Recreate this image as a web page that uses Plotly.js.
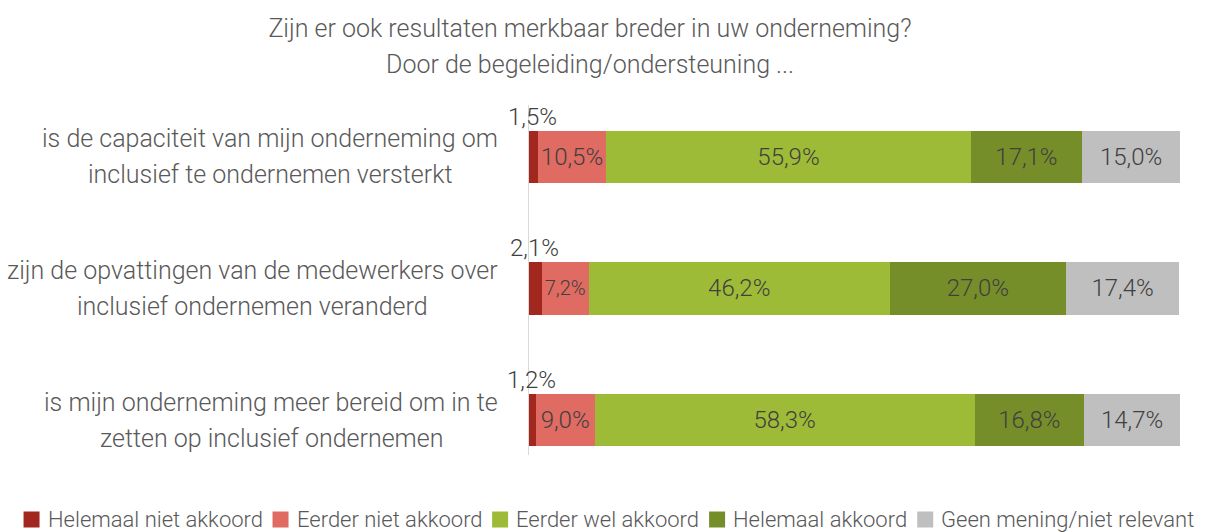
<!DOCTYPE html>
<html><head><meta charset="utf-8">
<script src="https://cdn.plot.ly/plotly-3.0.1.min.js"></script>
<style>body{margin:0;background:#fff}#chart{width:1216px;height:532px}</style>
</head><body><div id="chart"></div>
<script>
const categories = [
  "is de capaciteit van mijn onderneming om<br>inclusief te ondernemen versterkt",
  "zijn de opvattingen van de medewerkers over<br>inclusief ondernemen veranderd",
  "is mijn onderneming meer bereid om in te<br>zetten op inclusief ondernemen"
];
const seriesNames = ["Helemaal niet akkoord","Eerder niet akkoord","Eerder wel akkoord","Helemaal akkoord","Geen mening/niet relevant"];
const helemaalNiet = [1.5, 2.1, 1.2];
const eerderNiet = [10.5, 7.2, 9.0];
const eerderWel = [55.9, 46.2, 58.3];
const helemaalWel = [17.1, 27.0, 16.8];
const geenMening = [15.0, 17.4, 14.7];
const colors = ["#A1271F","#E06B62","#9EBB37","#768E29","#BFBFBF"];
const titleLine1 = "Zijn er ook resultaten merkbaar breder in uw onderneming?";
const titleLine2 = "Door de begeleiding/ondersteuning ...";

const FONT = "Roboto, 'DejaVu Sans Condensed', sans-serif";
const W = 1216, H = 532, L = 528, R = 36, T = 105, B = 77;
const PW = W - L - R, PH = H - T - B;
const px2x = px => (px - L) / PW;
const py2y = py => (H - B - py) / PH;
const ctx = document.createElement('canvas').getContext('2d');
const measure = (txt, size) => { ctx.font = `300 ${size}px Roboto`; return ctx.measureText(txt).width; };

const seriesVals = [helemaalNiet, eerderNiet, eerderWel, helemaalWel, geenMening];
const fmt = v => v.toFixed(1).replace('.', ',') + '%';
const yIdx = categories.map((c,i)=>i);

const traces = seriesVals.map((vals, s) => ({
  type: 'bar', orientation: 'h', name: seriesNames[s],
  y: yIdx, x: vals,
  marker: {color: colors[s]},
  text: vals.map(v => v < 3 ? '' : fmt(v)),
  textposition: 'inside', insidetextanchor: 'middle', textangle: 0,
  textfont: {family: FONT, size: 24, weight: 300, color: '#404040'},
  hoverinfo: 'none', showlegend: false
}));

const annotations = [];
const shapes = [{type: 'line', xref: 'x', yref: 'paper', x0: 0, x1: 0, y0: 0, y1: 1,
  line: {color: '#D9D9D9', width: 2}}];

// small-segment labels above the bars
helemaalNiet.forEach((v, i) => {
  annotations.push({x: v/2, y: i, xref: 'x', yref: 'y', text: fmt(v), showarrow: false,
    yshift: 40, xanchor: 'center', yanchor: 'middle',
    font: {family: FONT, size: 24, weight: 300, color: '#404040'}});
});
// category labels: block right-aligned, lines centred within block
const LBL = 25;
categories.forEach((c, i) => {
  const lines = c.split('<br>');
  const maxW = Math.max(...lines.map(l => measure(l, LBL)));
  const cx = 498 - maxW / 2;
  lines.forEach((ln, k) => {
    annotations.push({x: px2x(cx), y: i, xref: 'paper', yref: 'y', text: ln, showarrow: false,
      xanchor: 'center', yanchor: 'middle', yshift: 18 - 36 * k,
      font: {family: FONT, size: LBL, weight: 300, color: '#595959'}});
  });
});
// second title line
annotations.push({x: px2x(590), y: py2y(65), xref: 'paper', yref: 'paper', text: titleLine2,
  showarrow: false, xanchor: 'center', yanchor: 'middle',
  font: {family: FONT, size: 25, weight: 300, color: '#595959'}});
// legend
const LG = 22, SQ = 16, GAP1 = 7, GAP2 = 11, LY = 519.5;
const widths = seriesNames.map(n => measure(n, LG));
const total = widths.reduce((a, w) => a + SQ + GAP1 + w, 0) + GAP2 * (seriesNames.length - 1);
let lx = 608.5 - total / 2;
seriesNames.forEach((n, s) => {
  shapes.push({type: 'rect', xref: 'paper', yref: 'paper',
    x0: px2x(lx), x1: px2x(lx + SQ), y0: py2y(LY + SQ/2), y1: py2y(LY - SQ/2),
    fillcolor: colors[s], line: {width: 0}});
  annotations.push({x: px2x(lx + SQ + GAP1), y: py2y(LY), xref: 'paper', yref: 'paper', text: n,
    showarrow: false, xanchor: 'left', yanchor: 'middle', borderpad: 0,
    font: {family: FONT, size: LG, weight: 300, color: '#595959'}});
  lx += SQ + GAP1 + widths[s] + GAP2;
});

const layout = {
  width: W, height: H,
  margin: {l: L, r: R, t: T, b: B},
  barmode: 'stack', bargap: 0.6,
  paper_bgcolor: '#fff', plot_bgcolor: '#fff',
  title: {text: titleLine1, x: 590/W, xanchor: 'center', yref: 'container', y: 1 - 28/H, yanchor: 'middle',
    font: {family: FONT, size: 25, weight: 300, color: '#595959'}},
  xaxis: {range: [0, 100], visible: false, fixedrange: true},
  yaxis: {range: [2.266, -0.395], tickvals: yIdx, showticklabels: false, showgrid: false,
    zeroline: false, showline: false, ticks: ''},
  shapes: shapes,
  annotations: annotations,
  showlegend: false
};
Plotly.newPlot('chart', traces, layout, {displayModeBar: false, staticPlot: true});
</script>
</body></html>
